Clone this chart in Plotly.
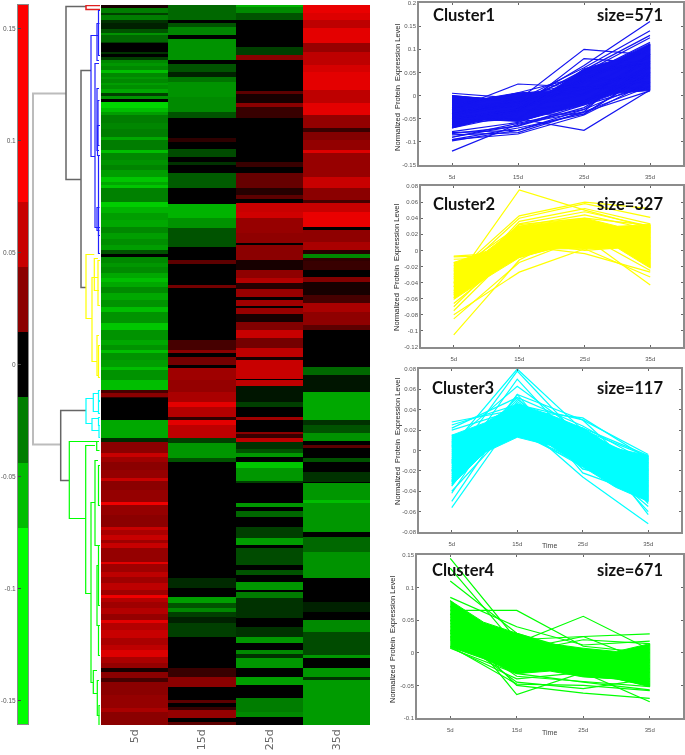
import plotly.graph_objects as go

W, H = 685, 755

# heatmap: each column is a run of values, stop = row where that value ends
col_5d_vals = [0.005,-0.03,-0.015,-0.03,-0.012,-0.008,-0.02,-0.04,-0.025,-0.015,0,-0.012,0,-0.015,
               -0.035,-0.042,-0.035,-0.06,-0.035,-0.042,-0.035,-0.045,-0.038,-0.05,-0.015,-0.04,0,-0.075,-0.06,-0.045,-0.03,-0.034,-0.03,-0.05,-0.03,-0.06,-0.035,-0.04,-0.033,-0.045,-0.065,-0.05,-0.065,-0.032,-0.07,-0.055,-0.045,-0.05,-0.035,-0.045,-0.038,-0.045,-0.02,0,
               -0.035,-0.042,-0.036,-0.05,-0.06,-0.05,-0.036,-0.05,-0.04,-0.06,-0.04,-0.065,-0.04,-0.05,-0.04,-0.06,-0.04,-0.045,-0.06,-0.04,
               -0.06,0.015,0.03,0.01,0,-0.05,-0.01,
               0.03,0.06,0.04,0.03,0.035,0.06,0.03,0.035,0.09,0.035,0.03,0.06,0.045,0.06,0.04,0.06,0.035,0.08,0.04,0.055,0.04,0.055,0.04,0.09,0.05,0.04,0.05,0.035,0.08,0.05,0.06,0.045,0.055,0.075,0.045,0.035,0.005,0.03,0.015,0.03,0.035,0.045,0.03]
col_5d_stops = [3,8,10,15,18,24,28,30,37,38,47,49,52,55,
                58,61,65,68,72,74,78,80,84,88,91,94,97,103,107,110,118,124,132,135,145,148,155,160,165,172,177,180,183,197,202,208,215,222,228,234,240,245,249,252,
                258,262,268,273,277,282,288,295,302,307,318,325,335,340,345,348,355,362,365,375,
                385,388,392,393,415,433,437,
                448,452,457,465,473,476,485,497,500,510,522,525,530,535,538,543,557,559,567,572,578,585,590,593,597,603,609,615,618,625,633,640,645,652,658,663,667,673,677,690,703,707,720]

col_15d_vals = [-0.025,0,-0.02,-0.034,0,-0.04,0,-0.02,-0.008,-0.028,-0.04,-0.036,-0.02,0,0.01,0,-0.018,0,-0.012,0,-0.022,0,-0.055,-0.04,-0.02,0,0.02,0,0.025,0,0.015,0.03,0,0.025,0,0.04,0.035,0.045,0.08,0.05,0.01,0.08,0.055,-0.015,-0.042,-0.02,0,-0.01,0,-0.045,-0.02,-0.035,-0.015,-0.008,-0.015,0,0.012,0.03,0,0.02,0,0.012,0.035,0,0.02]
col_15d_stops = [15,18,22,30,34,55,59,67,72,77,92,107,113,133,137,144,152,157,160,168,183,199,213,223,242,255,259,280,283,335,345,348,352,360,363,375,387,397,402,412,415,420,433,438,453,457,573,583,592,598,603,607,612,618,632,663,672,682,695,698,702,705,713,717,720]

col_25d_vals = [-0.055,-0.036,-0.02,0,-0.015,0.03,0,0.02,0.005,0.03,0.012,0,0.012,0,0.022,0.008,0.02,0,0.06,0.065,0.036,0.032,0,0.03,0.005,0.032,0.05,0.008,0.036,0,0.04,0,0.036,0.005,0.028,0.06,0.025,0.055,0.005,0.06,0,0.055,-0.005,-0.015,0,0.04,0,0.03,0.012,0.055,-0.012,-0.02,-0.042,0,-0.065,-0.042,-0.015,0,-0.042,0,-0.025,0,-0.015,-0.045,0,-0.018,0,-0.02,0,-0.042,0,-0.03,-0.012,0,-0.012,-0.042,0,-0.036,-0.012,-0.042,0,-0.045,0,-0.03,-0.036,0]
col_25d_stops = [2,8,15,42,50,55,86,89,98,102,113,157,162,168,183,190,194,198,207,213,228,238,240,255,265,273,278,284,292,295,301,303,309,317,325,333,343,352,355,374,375,381,397,402,412,415,427,429,433,437,444,448,452,457,463,476,478,498,502,506,512,522,533,540,543,560,565,570,577,585,587,593,613,622,632,638,645,649,653,663,672,680,693,707,712,720]

col_35d_vals = [0.085,0.075,0.055,0.08,0.036,0.055,0.07,0.08,0.055,0.08,0.034,0.012,0.028,0.034,0.075,0.036,0.06,0.03,0.015,0.06,0.085,0,0.032,0.045,0.008,-0.035,0.01,0.012,0,0.028,0.005,0.015,0.045,0.032,0.02,0,-0.025,-0.005,-0.05,-0.012,-0.02,-0.04,0,0.02,0,-0.02,0,-0.012,0,-0.042,-0.06,-0.042,0,-0.025,-0.04,0,-0.008,0,-0.036,-0.018,-0.042,0,-0.042,-0.012,-0.044]
col_35d_stops = [8,15,23,38,47,60,67,85,98,110,123,127,135,145,148,172,183,195,198,207,222,225,237,245,249,253,256,265,272,277,290,298,307,320,325,362,370,387,415,420,428,436,440,443,453,457,467,477,478,495,498,527,532,547,573,597,607,615,627,650,653,663,672,675,720]

day_labels = ["5d", "15d", "25d", "35d"]

# colour bar
bar_levels = [-0.1, -0.06, -0.03, 0, 0.03, 0.06, 0.1]
bar_edges = [-0.1603, -0.0728, -0.0437, -0.0143, 0.0147, 0.0437, 0.0728, 0.1607]
bar_ticks = [-0.15, -0.1, -0.05, 0, 0.05, 0.1, 0.15]
bar_ticktext = ["-0.15", "-0.1", "-0.05", "0", "0.05", "0.1", "0.15"]

# dendrogram links: top row, bottom row, merge distance, top child distance, bottom child distance
root_link = [(88, 439, 67, 34, 39.3)]
black_links = [(1, 174, 34, 14, 19), (65, 282, 19, 9, 14), (405, 475, 39.3, 14, 30.7)]
red_links = [(0, 4, 14, 0, 0)]
blue_links = [(30, 151, 9, 2, 5), (58, 222, 5, 1, 1.5), (18, 55, 3, 0.5, 1), (5, 50, 1.5, 0, 0), (83, 145, 3, 1, 1),
              (95, 140, 2, 0.5, 0.5), (120, 150, 2.5, 0, 0), (150, 230, 1.5, 0, 0), (202, 225, 3, 0.5, 0.5), (222, 248, 1.5, 0, 0)]
yellow_links = [(249, 313, 14, 5.7, 8), (253, 285, 5.7, 2, 1), (272, 356, 8, 2, 3), (330, 370, 3, 1, 1), (255, 300, 2, 0, 0), (340, 372, 1.5, 0, 0)]
cyan_links = [(393, 418, 14, 6.7, 8), (388, 406, 6.7, 1.5, 1), (413, 425, 8, 1.5, 1), (385, 395, 1.5, 0, 0), (396, 408, 1.5, 0, 0),
              (412, 420, 1.5, 0, 0), (420, 432, 1, 0, 0)]
green_links = [(436, 513, 30.7, 3.3, 14.3), (436, 445, 3.3, 1, 0.5), (440, 588, 14.3, 5, 9), (455, 540, 5, 2, 1), (497, 677, 9, 5, 6.7),
               (560, 620, 3, 1, 0.5), (665, 688, 6.7, 3, 2.7), (620, 650, 1.5, 0, 0), (675, 710, 2.7, 1, 0.5), (700, 720, 1, 0, 0),
               (460, 500, 1.5, 0, 0), (540, 600, 1.5, 0, 0)]

# dense mass of each cluster, edges read at 5d, 10d, 15d, 20d, 25d, 30d, 35d
band_x = [0, 0.5, 1, 1.5, 2, 2.5, 3]
band1_upper = [0, -0.006, 0.006, 0.009, 0.058, 0.078, 0.112]
band1_lower = [-0.07, -0.052, -0.056, -0.038, -0.02, 0.005, 0.011]
band2_upper = [-0.015, -0.001, 0.03, 0.035, 0.04, 0.03, 0.032]
band2_lower = [-0.061, -0.034, -0.009, 0.002, 0.002, 0.003, -0.022]
band3_upper = [0.015, 0.027, 0.046, 0.035, 0.022, 0.002, -0.005]
band3_lower = [-0.034, -0.002, 0.013, 0.005, -0.016, -0.036, -0.05]
band4_upper = [0.08, 0.047, 0.03, 0.014, 0.007, 0.002, 0.014]
band4_lower = [0.009, -0.009, -0.032, -0.028, -0.037, -0.04, -0.052]

# profile lines: value at 5d, 15d, 25d, 35d
cluster1 = [
    [0.000,-0.014,0.012,0.030],[-0.003,-0.010,-0.012,0.045],[-0.009,-0.006,0.005,0.062],
    [-0.015,-0.002,0.030,0.040],[-0.018,-0.026,0.002,0.075],[-0.021,0.004,0.018,0.015],
    [-0.027,0.006,0.042,0.028],[-0.030,-0.034,-0.015,0.090],[-0.039,-0.012,0.048,0.068],
    [-0.045,-0.016,0.035,0.100],[-0.054,-0.050,0.038,0.082],[-0.063,-0.028,0.028,0.110],
    [-0.069,-0.032,0.052,0.072],[-0.050,-0.035,0.044,0.115],
    [0.005,-0.006,0.015,0.050],[-0.098,-0.075,-0.030,0.070],[-0.120,-0.062,-0.035,0.090],[-0.095,-0.083,-0.042,0.030],
    [-0.085,-0.080,-0.035,0.020],[-0.095,-0.070,-0.040,0.050],[-0.080,-0.075,-0.036,0.010],[-0.060,-0.050,-0.075,0.012],
    [-0.030,0.025,0.018,0.085],[-0.040,-0.010,0.100,0.088],[-0.050,-0.030,0.080,0.070],[-0.040,-0.020,0.065,0.160],
    [-0.030,-0.010,0.060,0.140],[-0.020,-0.020,0.055,0.130],[-0.050,-0.030,0.050,0.125],[-0.070,-0.040,-0.040,0.050],
    [-0.090,-0.060,-0.030,0.030],[-0.090,-0.065,-0.020,0.020],[-0.078,-0.058,-0.012,0.040],[-0.082,-0.066,-0.026,0.060],
]
cluster2 = [
    [-0.015,-0.003,0.022,0.010],[-0.019,-0.006,0.030,0.028],[-0.023,-0.008,0.036,-0.020],
    [-0.033,0.018,0.020,0.024],[-0.041,0.026,0.038,-0.004],[-0.045,0.030,0.024,0.000],[-0.053,0.028,0.002,0.033],[-0.059,0.022,0.035,0.022],
    [-0.008,-0.006,0.020,0.016],[-0.007,-0.002,0.026,0.004],[-0.011,-0.008,0.012,0.028],[-0.105,-0.012,0.030,-0.010],
    [-0.085,-0.015,0.016,-0.043],[-0.080,-0.027,0.002,-0.033],[-0.075,0.006,-0.004,-0.027],[-0.070,0.010,0.000,0.006],
    [-0.066,0.000,0.020,-0.025],[-0.040,0.075,0.050,0.028],[-0.030,0.043,0.060,0.052],[-0.035,0.040,0.058,0.041],
    [-0.050,0.036,0.052,0.033],[-0.045,0.033,0.048,0.030],[-0.026,0.030,0.044,0.026],[-0.055,0.032,0.040,0.031],
]
cluster3 = [
    [0.015,0.016,0.014,-0.010],[0.013,0.022,-0.004,-0.030],[0.011,0.014,0.020,-0.006],[0.009,0.030,0.002,-0.040],
    [0.007,0.018,-0.012,-0.014],[0.005,0.036,0.010,-0.024],[0.003,0.015,0.016,-0.044],[0.001,0.026,-0.008,-0.008],
    [-0.001,0.042,0.006,-0.018],[-0.003,0.020,-0.016,-0.034],[-0.005,0.032,0.018,-0.012],[-0.007,0.016,0.000,-0.028],
    [-0.009,0.046,0.012,-0.048],[-0.011,0.024,-0.006,-0.020],[-0.013,0.038,0.022,-0.005],[-0.015,0.018,-0.014,-0.036],
    [-0.017,0.028,0.008,-0.016],[-0.019,0.050,0.004,-0.026],[-0.021,0.022,-0.010,-0.042],[-0.023,0.034,0.014,-0.009],
    [-0.025,0.026,-0.002,-0.032],[-0.027,0.040,-0.018,-0.022],[-0.029,0.030,0.010,-0.046],[-0.031,0.044,0.016,-0.013],
    [-0.033,0.036,-0.012,-0.038],[-0.035,0.048,0.004,-0.019],
    [0.028,0.040,0.032,-0.008],[0.025,0.045,0.030,-0.004],[0.022,0.052,0.024,-0.012],[0.020,0.040,0.022,-0.020],
    [-0.042,0.055,0.030,-0.030],[-0.050,0.045,0.012,-0.040],[-0.056,0.035,-0.006,-0.050],[-0.040,0.030,-0.026,-0.072],
    [0.004,0.080,0.020,-0.063],[-0.010,0.078,0.010,-0.060],[-0.020,0.070,0.000,-0.055],[0.008,0.063,0.016,-0.052],
    [-0.030,0.055,-0.022,-0.045],[-0.012,0.052,-0.018,-0.035],
]
cluster4 = [
    [0.080,-0.006,-0.020,-0.012],[0.071,0.010,-0.024,-0.040],[0.059,0.022,-0.016,-0.024],
    [0.050,0.028,-0.022,-0.048],[0.032,0.024,-0.036,-0.044],[0.023,0.030,-0.030,0.012],[0.020,-0.030,-0.014,-0.025],
    [0.145,0.020,-0.010,-0.020],[0.130,0.010,-0.020,-0.030],[0.110,0.030,0.000,-0.010],[0.085,0.040,0.012,0.018],
    [0.065,0.065,0.010,0.000],[0.007,-0.032,-0.045,-0.057],[0.008,-0.040,-0.030,-0.050],[0.010,-0.048,-0.050,-0.058],
    [0.060,-0.064,-0.030,-0.075],[0.050,-0.050,-0.062,-0.070],[0.035,-0.036,-0.044,-0.052],[0.030,-0.045,-0.055,-0.040],
    [0.055,0.015,0.056,0.005],[0.040,0.020,0.025,-0.015],[0.045,0.005,0.025,0.029],[0.025,0.000,0.020,0.014],
]

cluster_names = ["Cluster1", "Cluster2", "Cluster3", "Cluster4"]
cluster_sizes = ["size=571", "size=327", "size=117", "size=671"]
cluster_ranges = [[-0.15, 0.2], [-0.12, 0.08], [-0.08, 0.08], [-0.1, 0.15]]
cluster_ticks = [
    [-0.15, -0.1, -0.05, 0, 0.05, 0.1, 0.15, 0.2],
    [-0.12, -0.1, -0.08, -0.06, -0.04, -0.02, 0, 0.02, 0.04, 0.06, 0.08],
    [-0.08, -0.06, -0.04, -0.02, 0, 0.02, 0.04, 0.06, 0.08],
    [-0.1, -0.05, 0, 0.05, 0.1, 0.15],
]
cluster_colors = ["#1414f0", "#ffff00", "#00ffff", "#00ff00"]


def dom_x(a, b):
    return [a / W, b / W]


def dom_y(top, bottom):
    return [1 - bottom / H, 1 - top / H]


def expand(vals, stops):
    out, start = [], 0
    for v, s in zip(vals, stops):
        out += [v] * (s - start)
        start = s
    return out


def add_links(links, color, width, axes=("x2", "y2")):
    xs, ys = [], []
    for top, bottom, merge, d_top, d_bottom in links:
        xs += [d_top, merge, merge, d_bottom, None]
        ys += [top, top, bottom, bottom, None]
    fig.add_trace(go.Scatter(x=xs, y=ys, mode="lines", line=dict(color=color, width=width),
                             xaxis=axes[0], yaxis=axes[1], hoverinfo="skip"))


# levels in the colour scale, stepped bar values land exactly on them
lo, hi = -0.1, 0.1
scale = [
    [0, "rgb(0,255,0)"], [(-0.06 - lo) / (hi - lo), "rgb(0,190,0)"], [(-0.03 - lo) / (hi - lo), "rgb(0,125,0)"],
    [0.5, "rgb(0,0,0)"], [(0.03 - lo) / (hi - lo), "rgb(139,0,0)"], [(0.06 - lo) / (hi - lo), "rgb(200,0,0)"], [1, "rgb(255,0,0)"],
]

fig = go.Figure()

fig.add_trace(go.Heatmap(z=[[v] for v in bar_levels], y=bar_edges, x=[0], colorscale=scale, zmin=lo, zmax=hi,
                         showscale=False, xaxis="x", yaxis="y", hoverinfo="skip"))

add_links(root_link, "#bcbcbc", 2)
add_links(black_links, "#666666", 1.5)
add_links(red_links, "#e02020", 1.5)
add_links(blue_links, "#2020ff", 1.2)
add_links(yellow_links, "#ffff00", 1.2)
add_links(cyan_links, "#00ffff", 1.2)
add_links(green_links, "#00ff00", 1.2)

columns = [expand(col_5d_vals, col_5d_stops), expand(col_15d_vals, col_15d_stops),
           expand(col_25d_vals, col_25d_stops), expand(col_35d_vals, col_35d_stops)]
rows = [[c[i] for c in columns] for i in range(720)]
fig.add_trace(go.Heatmap(z=rows, colorscale=scale, zmin=lo, zmax=hi, showscale=False,
                         xaxis="x3", yaxis="y3", hoverinfo="skip"))

all_clusters = [cluster1, cluster2, cluster3, cluster4]
all_uppers = [band1_upper, band2_upper, band3_upper, band4_upper]
all_lowers = [band1_lower, band2_lower, band3_lower, band4_lower]
for k, lines in enumerate(all_clusters):
    ax = str(k + 4)
    fig.add_trace(go.Scatter(x=band_x + band_x[::-1], y=all_uppers[k] + all_lowers[k][::-1], mode="lines",
                             fill="toself", fillcolor=cluster_colors[k], line=dict(color=cluster_colors[k], width=1),
                             xaxis="x" + ax, yaxis="y" + ax, hoverinfo="skip"))
    for line in lines:
        fig.add_trace(go.Scatter(x=[0, 1, 2, 3], y=line, mode="lines",
                                 line=dict(color=cluster_colors[k], width=1.2),
                                 xaxis="x" + ax, yaxis="y" + ax, hoverinfo="skip"))

layout = dict(
    width=W, height=H, margin=dict(l=0, r=0, t=0, b=0), showlegend=False,
    paper_bgcolor="white", plot_bgcolor="white",
    xaxis=dict(domain=dom_x(18, 28), range=[-0.5, 0.5], showticklabels=False, ticks="", showgrid=False, zeroline=False,
               showline=True, mirror=True, linecolor="#8a8a8a", linewidth=1, automargin=False),
    yaxis=dict(domain=dom_y(5, 724), range=[-0.1603, 0.1607], tickvals=bar_ticks, ticktext=bar_ticktext,
               ticks="inside", ticklen=3, tickcolor="#444", showgrid=False, zeroline=False,
               showline=True, mirror=True, linecolor="#8a8a8a", linewidth=1, automargin=False,
               tickfont=dict(family="Liberation Sans", size=6.5, color="#555")),
    xaxis2=dict(domain=dom_x(30, 100), range=[70, 0], visible=False, automargin=False),
    yaxis2=dict(domain=dom_y(5, 725), range=[719.5, -0.5], visible=False, automargin=False),
    xaxis3=dict(domain=dom_x(101, 370), range=[-0.5, 3.5], tickvals=[0, 1, 2, 3], ticktext=day_labels,
                tickangle=-90, ticks="", showgrid=False, zeroline=False, automargin=False, ticklabelstandoff=2,
                tickfont=dict(family="DejaVu Sans", size=11, color="#666")),
    yaxis3=dict(domain=dom_y(5, 725), range=[719.5, -0.5], visible=False, automargin=False),
)

# panel frames in pixels: left, right, top, bottom
panel_boxes = [(419, 683, 3, 165), (421, 683, 186, 347), (419, 681, 369, 532), (417, 683, 555, 718)]
for k, (l, r, t, b) in enumerate(panel_boxes):
    ax = str(k + 4)
    axis_style = dict(showgrid=False, zeroline=False, showline=True, mirror="ticks", ticks="inside", ticklen=2,
                      linecolor="#8c8c8c", linewidth=1.5, tickcolor="#666", automargin=False,
                      tickfont=dict(family="Liberation Sans", size=6, color="#555"))
    layout["xaxis" + ax] = dict(domain=dom_x(l, r), range=[-0.5, 3.5], tickvals=[0, 1, 2, 3], ticktext=day_labels,
                                anchor="y" + ax, ticklabelstandoff=5, **axis_style)
    layout["yaxis" + ax] = dict(domain=dom_y(t, b), range=cluster_ranges[k], tickvals=cluster_ticks[k],
                                ticktext=[f"{v:g}" for v in cluster_ticks[k]], anchor="x" + ax, **axis_style)

fig.update_layout(**layout)

# cluster names, sizes, axis captions
name_y = [15, 204, 388, 570]
name_x = [431, 431, 430, 430]
title_x = [397, 397, 397, 392]
title_y = [88, 268, 442, 639]
for k in range(4):
    fig.add_annotation(text=cluster_names[k], x=name_x[k] / W, y=1 - name_y[k] / H, xref="paper", yref="paper",
                       xanchor="left", yanchor="middle", showarrow=False,
                       font=dict(family="Lato", size=16.5, color="#111", weight=700))
    fig.add_annotation(text=cluster_sizes[k], x=595 / W, y=1 - name_y[k] / H, xref="paper", yref="paper",
                       xanchor="left", yanchor="middle", showarrow=False,
                       font=dict(family="Lato", size=16.5, color="#111", weight=700))
    fig.add_annotation(text="Normalized\u00a0 Protein\u00a0 Expression Level", x=title_x[k] / W, y=1 - title_y[k] / H,
                       xref="paper", yref="paper", textangle=-90, showarrow=False, xanchor="center", yanchor="middle",
                       font=dict(family="Liberation Sans", size=7.5, color="#222"))
for tx, ty in [(549, 545), (549, 732)]:
    fig.add_annotation(text="Time", x=tx / W, y=1 - ty / H, xref="paper", yref="paper", showarrow=False,
                       xanchor="center", yanchor="middle",
                       font=dict(family="Liberation Sans", size=7, color="#444"))

# the source is a soft, scaled-down raster
fig.write_html("out.html", config={"displayModeBar": False},
               post_script="document.body.style.margin='0';document.body.style.filter='blur(0.5px)';")
